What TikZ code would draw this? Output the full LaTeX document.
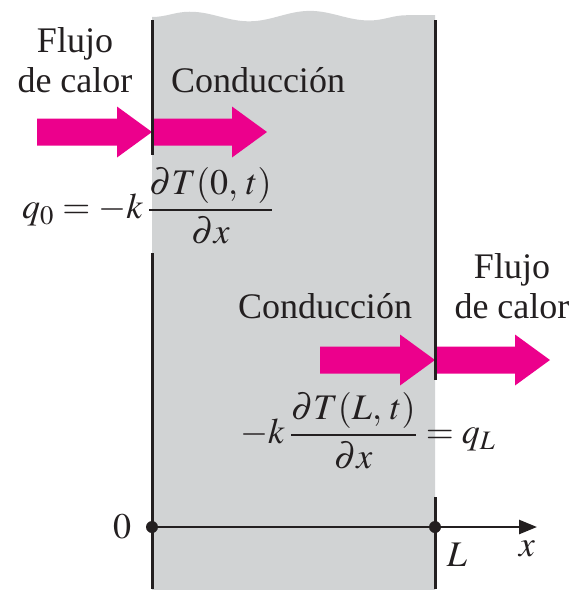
\documentclass[tikz,border=0pt]{standalone}
\usepackage{amsmath}
\usepackage{mathptmx}
\usepackage{fontspec}
\setmainfont{Liberation Serif}
\usepackage{xcolor}
\usepackage{tikz}
\usetikzlibrary{calc,positioning,arrows.meta,decorations.pathmorphing}
\definecolor{slabGray}{HTML}{D1D3D4}
\definecolor{heatPink}{HTML}{EC008C}
\definecolor{inkBlack}{HTML}{231F20}
\tikzset{
    slab/.style={fill=slabGray},
    wall/.style={draw=inkBlack, line width=1.5pt},
    heat/.style={fill=heatPink},
    lbl/.style={font=\fontsize{18}{20}\selectfont, align=center, inner sep=0pt,
                text=inkBlack},
    eqn/.style={font=\fontsize{18}{20}\selectfont, inner sep=0pt, text=inkBlack},
    axisline/.style={draw=inkBlack, line width=1.3pt,
                     -{Triangle[length=9pt, width=7pt]}},
    dot/.style={circle, fill=inkBlack, inner sep=0pt, minimum size=6pt},
}

\begin{document}
\begin{tikzpicture}[x=0.5pt, y=-0.5pt]
\useasboundingbox (0,0) rectangle (576,590);

% slab with torn top and bottom
\fill[slab] (152,592) -- (152,17)
    decorate[decoration={snake, amplitude=2.5, segment length=60}]{-- (435,15)}
    -- (435,592) -- cycle;

% heat flow arrows (tip given)
\foreach \tx/\ty in {152/132, 267/132, 435/360, 550/360}{
  \fill[heat] (\tx-115,\ty-13.5) -- (\tx-35,\ty-13.5) -- (\tx-35,\ty-25.5)
     -- (\tx,\ty) -- (\tx-35,\ty+25.5) -- (\tx-35,\ty+13.5)
     -- (\tx-115,\ty+13.5) -- cycle;
}

% walls, broken where the equations sit
\draw[wall] (152,20) -- (152,155);
\draw[wall] (152,253) -- (152,589);
\draw[wall] (435,20) -- (435,380);
\draw[wall] (435,497) -- (435,589);

% labels
\node[lbl, anchor=base] (inFlow) at (75,92) {Flujo\\de calor};
\node[lbl, anchor=base] (condL) at (258,92) {Conducción};
\node[lbl, anchor=base] (condR) at (325,318) {Conducción};
\node[lbl, anchor=base] (outFlow) at (512,318) {Flujo\\de calor};

% boundary conditions
\node[eqn] (bcZero) at (148,206)
     {$q_0 = -k\,\dfrac{\partial T(0,\,t)}{\partial x}$};
\node[eqn] (bcL) at (368,431)
     {$-k\,\dfrac{\partial T(L,\,t)}{\partial x} = q_L$};

% x axis
\node[dot] (origin) at (152,527) {};
\node[dot] (endL) at (435,527) {};
\coordinate (xTip) at (537,527);
\draw[axisline] (origin) -- (xTip);
\node[lbl, left=7pt of origin] (zeroLbl) {$0$};
\node[lbl] (lLbl) at (457,555) {$L$};
\node[lbl] (xLbl) at (527,549) {$x$};

\end{tikzpicture}
\end{document}
